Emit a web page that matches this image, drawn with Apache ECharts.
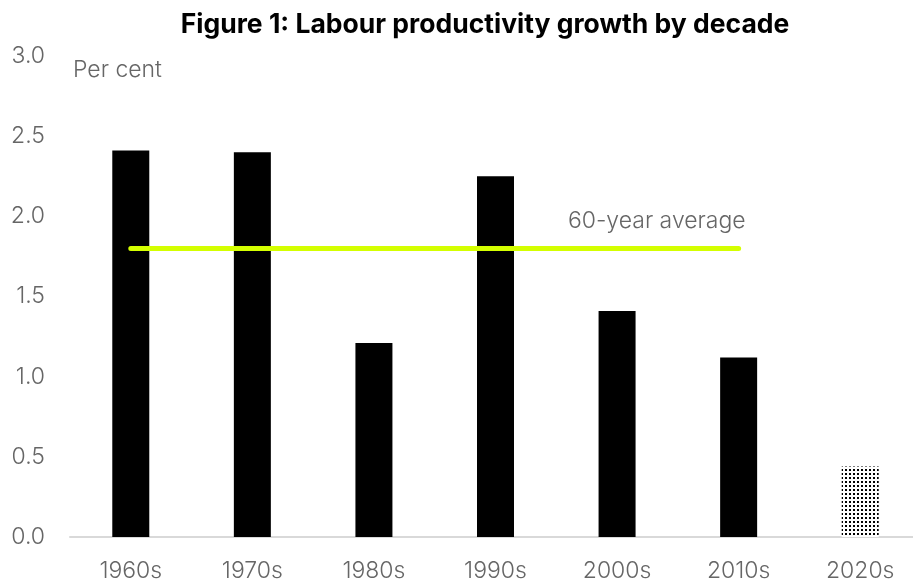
<!DOCTYPE html>
<html><head><meta charset="utf-8">
<script src="https://cdn.jsdelivr.net/npm/echarts@6/dist/echarts.min.js"></script>
<style>html,body{margin:0;padding:0;background:#fff}#c{width:913px;height:582px}</style>
</head><body><div id="c"></div>
<script>
const categories = ['1960s','1970s','1980s','1990s','2000s','2010s','2020s'];
const growth = [2.41, 2.40, 1.21, 2.25, 1.41, 1.12, 0.44];
const average = [1.8, 1.8, 1.8, 1.8, 1.8, 1.8, null];
const yTicks = [0, 0.5, 1.0, 1.5, 2.0, 2.5, 3.0];

// dotted pattern for the partial 2020s decade
const pc = document.createElement('canvas');
pc.width = 4; pc.height = 4;
const g = pc.getContext('2d');
g.fillStyle = '#fff'; g.fillRect(0,0,4,4);
g.fillStyle = '#000';
g.fillRect(1,1,2,2);

const font = 'Inter';
const chart = echarts.init(document.getElementById('c'));
chart.setOption({
  animation: false,
  title: {
    text: 'Figure 1: Labour productivity growth by decade',
    left: 480, textAlign: 'center', top: 7,
    textStyle: {fontFamily: font, fontWeight: 'bold', fontSize: 26.5, color: '#000'}
  },
  grid: {left: 70, right: -8, top: 56, bottom: 45, outerBoundsMode: 'none', containLabel: false},
  xAxis: {
    type: 'category', data: categories,
    axisLine: {lineStyle: {color: '#d9d9d9', width: 2}},
    axisTick: {show: false},
    axisLabel: {margin: 23, fontFamily: font, fontWeight: 300, fontSize: 23, color: '#666'}
  },
  yAxis: {
    type: 'value', min: 0, max: 3, interval: 0.5,
    name: 'Per cent', nameLocation: 'end', nameGap: -3,
    nameTextStyle: {fontFamily: font, fontWeight: 300, fontSize: 23, color: '#666', align: 'left', verticalAlign: 'top', padding: [0,0,0,3]},
    axisLine: {show: false}, axisTick: {show: false}, splitLine: {show: false},
    axisLabel: {margin: 25, fontFamily: font, fontWeight: 300, fontSize: 23, color: '#666',
      formatter: v => v.toFixed(1)}
  },
  series: [{
    type: 'bar', barWidth: 37,
    data: growth.map((v, i) => i === categories.length - 1
      ? {value: v, itemStyle: {color: {image: pc, repeat: 'repeat'}}}
      : {value: v, itemStyle: {color: '#000'}})
  }, {
    type: 'line', data: average, symbol: 'none', z: 5,
    lineStyle: {color: '#d4ff00', width: 5, cap: 'round'},
    endLabel: {show: true, formatter: '60-year average', align: 'right', verticalAlign: 'middle',
      offset: [-1, -27], fontFamily: font, fontWeight: 300, fontSize: 23, color: '#666'}
  }]
});
</script></body></html>
